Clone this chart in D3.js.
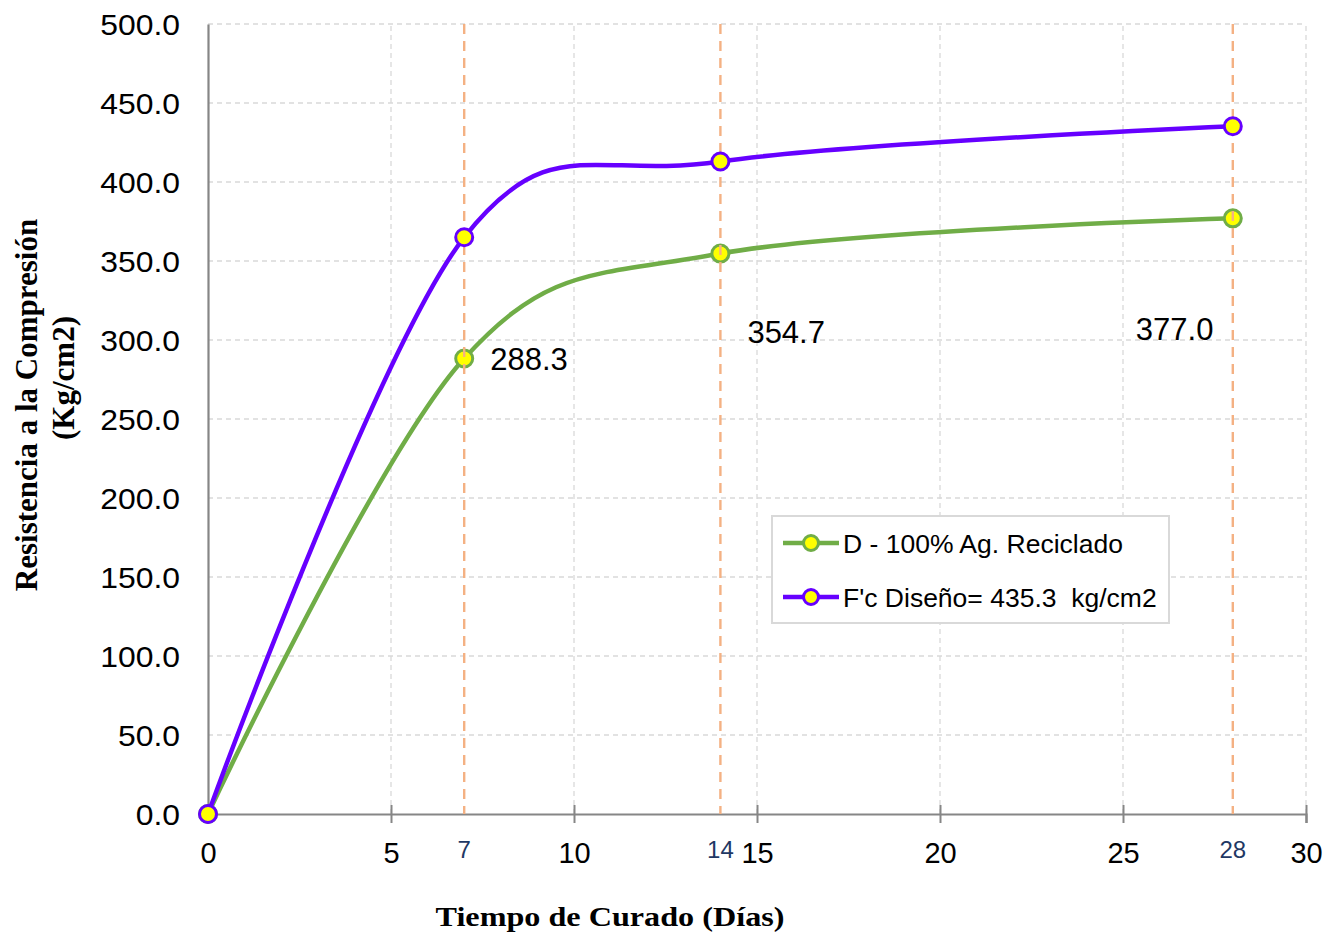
<!DOCTYPE html>
<html>
<head>
<meta charset="utf-8">
<script src="https://cdn.jsdelivr.net/npm/d3@7"></script>
<style>
  html, body { margin: 0; padding: 0; background: #fff; }
  svg { display: block; }
  text { white-space: pre; }
</style>
</head>
<body>
<svg id="chart" width="1331" height="942"></svg>
<script>
// Curing age (days) and compressive strength (kg/cm2)
const days = [0, 7, 14, 28];
const recycled = [0, 288.3, 354.7, 377.0];
const design = [0, 365.0, 413.0, 435.3];
const seriesNames = ["D - 100% Ag. Reciclado", "F'c Diseño= 435.3  kg/cm2"];
const xTicks = [0, 5, 10, 15, 20, 25, 30];
const ageTicks = [7, 14, 28];
const yTicks = [0, 50, 100, 150, 200, 250, 300, 350, 400, 450, 500];
const labelValues = recycled.slice(1);
const labelDays = days.slice(1);

const svg = d3.select("#chart");
const x = d3.scaleLinear().domain([0, 30]).range([208, 1306]);
const y = d3.scaleLinear().domain([0, 500]).range([814, 24]);

const colGreen = "#70AD47";
const colPurple = "#6600FF";
const colOrange = "#F4B183";
const colGrid = "#D9D9D9";
const colAxis = "#868686";
const sans = "'Liberation Sans', Arial, sans-serif";
const serif = "'Liberation Serif', 'Times New Roman', serif";

// gridlines
svg.append("g").selectAll("line").data(yTicks.filter(d => d > 0)).join("line")
  .attr("x1", x(0)).attr("x2", x(30))
  .attr("y1", d => y(d)).attr("y2", d => y(d))
  .attr("stroke", colGrid).attr("stroke-width", 1.3).attr("stroke-dasharray", "5,4");
svg.append("g").selectAll("line").data(xTicks.filter(d => d > 0)).join("line")
  .attr("x1", d => x(d)).attr("x2", d => x(d))
  .attr("y1", y(0)).attr("y2", y(500))
  .attr("stroke", colGrid).attr("stroke-width", 1.3).attr("stroke-dasharray", "5,4");

// axes
const xAxis = d3.axisBottom(x).tickValues(xTicks).tickSize(9).tickFormat(d3.format("d"));
const gx = svg.append("g").attr("transform", `translate(0,${y(0)})`).call(xAxis);
gx.select(".domain").attr("stroke", colAxis).attr("stroke-width", 2.2);
gx.selectAll(".tick line").attr("stroke", colAxis).attr("stroke-width", 2).attr("y1", -9);
gx.selectAll(".tick text")
  .attr("y", 49).attr("dy", null)
  .attr("fill", "#000")
  .style("font-family", sans)
  .style("font-size", "29px");

const yAxis = d3.axisLeft(y).tickValues(yTicks).tickSize(0).tickFormat(d3.format(".1f"));
const gy = svg.append("g").attr("transform", `translate(${x(0)},0)`).call(yAxis);
gy.select(".domain").attr("stroke", colAxis).attr("stroke-width", 2.2);
gy.selectAll(".tick text")
  .attr("x", 0).attr("dy", "0.35em")
  .attr("transform", "translate(-28,0) scale(1.08,1)")
  .attr("fill", "#000")
  .style("font-family", sans)
  .style("font-size", "29.5px");

// curing ages
svg.append("g").selectAll("text").data(ageTicks).join("text")
  .attr("x", d => x(d)).attr("y", 858)
  .attr("text-anchor", "middle")
  .attr("fill", "#1F3864")
  .style("font-family", sans)
  .style("font-size", "24px")
  .text(d => d);

const line = d3.line().x((d, i) => x(days[i])).y(d => y(d)).curve(d3.curveCardinal.tension(0));

function drawSeries(vals, color) {
  const g = svg.append("g");
  g.append("path").datum(vals).attr("d", line)
    .attr("fill", "none").attr("stroke", color).attr("stroke-width", 4.5)
    .attr("stroke-linejoin", "round");
  g.selectAll("circle").data(vals).join("circle")
    .attr("cx", (d, i) => x(days[i])).attr("cy", d => y(d)).attr("r", 8.5)
    .attr("fill", "#FFFF00").attr("stroke", color).attr("stroke-width", 3);
}

drawSeries(recycled, colGreen);

// vertical reference lines at curing ages
svg.append("g").selectAll("line").data(ageTicks).join("line")
  .attr("x1", d => x(d)).attr("x2", d => x(d))
  .attr("y1", y(500)).attr("y2", y(0))
  .attr("stroke", colOrange).attr("stroke-width", 2.4).attr("stroke-dasharray", "10,7");

drawSeries(design, colPurple);

// value labels for the recycled-aggregate series
const labelOffsets = [[26, 12], [27, 89], [-97, 122]];
svg.append("g").selectAll("text").data(labelValues).join("text")
  .attr("x", (d, i) => x(labelDays[i]) + labelOffsets[i][0])
  .attr("y", (d, i) => y(d) + labelOffsets[i][1])
  .attr("fill", "#000")
  .style("font-family", sans)
  .style("font-size", "31px")
  .text(d => d.toFixed(1));

// legend
const lg = svg.append("g").attr("transform", "translate(772,516)");
lg.append("rect").attr("width", 397).attr("height", 107)
  .attr("fill", "#fff").attr("stroke", "#D9D9D9").attr("stroke-width", 2);
const legendColors = [colGreen, colPurple];
seriesNames.forEach((name, i) => {
  const cy = 27 + i * 54;
  lg.append("line").attr("x1", 11).attr("x2", 67).attr("y1", cy).attr("y2", cy)
    .attr("stroke", legendColors[i]).attr("stroke-width", 4.5);
  lg.append("circle").attr("cx", 39).attr("cy", cy).attr("r", 7.5)
    .attr("fill", "#FFFF00").attr("stroke", legendColors[i]).attr("stroke-width", 3);
  lg.append("text").attr("x", 71).attr("y", cy + 10)
    .style("font-family", sans)
    .style("font-size", "26.5px").attr("fill", "#000").text(name);
});

// axis titles
svg.append("text")
  .attr("transform", "translate(37,405) rotate(-90)")
  .attr("text-anchor", "middle")
  .style("font-family", serif)
  .style("font-weight", "bold").style("font-size", "31px")
  .text("Resistencia a la Compresión");
svg.append("text")
  .attr("transform", "translate(74,378) rotate(-90)")
  .attr("text-anchor", "middle")
  .style("font-family", serif)
  .style("font-weight", "bold").style("font-size", "31px")
  .text("(Kg/cm2)");
svg.append("text")
  .attr("transform", "translate(610,926) scale(1.15,1)")
  .attr("text-anchor", "middle")
  .style("font-family", serif)
  .style("font-weight", "bold").style("font-size", "28px")
  .text("Tiempo de Curado (Días)");
</script>
</body>
</html>
